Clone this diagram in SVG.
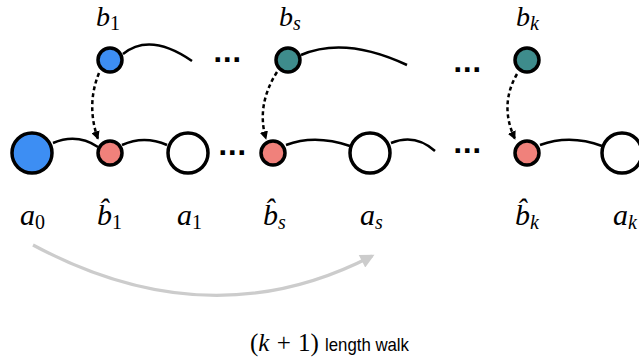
<svg xmlns="http://www.w3.org/2000/svg" width="639" height="364" viewBox="0 0 639 364">
<style>
.n{stroke:#000;stroke-width:3.5}
.big{fill:#fff}
.blue{fill:#3d8ef3}
.pink{fill:#f0817b}
.teal{fill:#3e8c8c}
.e{fill:none;stroke:#000;stroke-width:2.5}
.d{fill:none;stroke:#000;stroke-width:2.5;stroke-dasharray:4 3}
.m{font-family:"Liberation Serif","Times New Roman",serif;font-style:italic;font-size:30px;fill:#000}
.t{font-size:28px}
.sub{font-style:normal;font-size:20px}
.subi{font-size:20px}
.dots{font-family:"DejaVu Sans",sans-serif;font-size:25px;font-weight:bold;fill:#000}
</style>
<defs>
<marker id="ah" viewBox="0 0 10 10" refX="9" refY="5" markerWidth="3.4" markerHeight="3.4" orient="auto" markerUnits="strokeWidth">
<path d="M0,0 L10,5 L0,10 z" fill="#000"/>
</marker>
<marker id="gh" viewBox="0 0 10 10" refX="8" refY="5" markerWidth="5" markerHeight="4.4" orient="auto" markerUnits="strokeWidth">
<path d="M0,0 L10,5 L0,10 z" fill="#cccccc"/>
</marker>
</defs>
<g id="connectors">
<path class="e" d="M53,143 Q77,133 98,147"/>
<path class="e" d="M122,145 Q144,135 167,145"/>
<path class="e" d="M286,145 Q315,134 350,146"/>
<path class="e" d="M391,143 Q415,133 435,151"/>
<path class="e" d="M540,145 Q570,134 602,146"/>
<path class="e" d="M123,54 Q150,32 192,61"/>
<path class="e" d="M301,55 Q345,36 407,65"/>
<path class="d" d="M99,73 Q86,105 98,139" marker-end="url(#ah)"/>
<path class="d" d="M277,72 Q256,105 266,139" marker-end="url(#ah)"/>
<path class="d" d="M517,74 Q499,105 515,139" marker-end="url(#ah)"/>
<path d="M33,245 Q210,340 372,256" fill="none" stroke="#cccccc" stroke-width="3.2" marker-end="url(#gh)"/>
</g>
<g id="a0"><circle class="n blue" cx="32" cy="153" r="20"/><text class="m" x="20" y="225">a<tspan class="sub" dy="4">0</tspan></text></g>
<g id="bh1"><circle class="n pink" cx="110" cy="153" r="12"/><text class="m" x="97" y="225">b̂<tspan class="sub" dy="4">1</tspan></text></g>
<g id="a1"><circle class="n big" cx="188" cy="153" r="20"/><text class="m" x="177" y="225">a<tspan class="sub" dy="4">1</tspan></text></g>
<g id="bhs"><circle class="n pink" cx="273" cy="153" r="12"/><text class="m" x="263" y="225">b̂<tspan class="subi" dy="4">s</tspan></text></g>
<g id="as"><circle class="n big" cx="370" cy="153" r="20"/><text class="m" x="360" y="225">a<tspan class="subi" dy="4">s</tspan></text></g>
<g id="bhk"><circle class="n pink" cx="527" cy="153" r="12"/><text class="m" x="515" y="225">b̂<tspan class="subi" dy="4">k</tspan></text></g>
<g id="ak"><circle class="n big" cx="622" cy="153" r="20"/><text class="m" x="613" y="225">a<tspan class="subi" dy="4">k</tspan></text></g>
<g id="b1"><circle class="n blue" cx="110" cy="60" r="12"/><text class="m t" x="96" y="26">b<tspan class="sub" dy="4">1</tspan></text></g>
<g id="bs"><circle class="n teal" cx="288" cy="60" r="12"/><text class="m t" x="279" y="26">b<tspan class="subi" dy="4">s</tspan></text></g>
<g id="bk"><circle class="n teal" cx="527" cy="60" r="12"/><text class="m t" x="516" y="26">b<tspan class="subi" dy="4">k</tspan></text></g>
<g id="dots">
<text class="dots" x="213" y="68">···</text>
<text class="dots" x="453" y="78">···</text>
<text class="dots" x="218" y="161">···</text>
<text class="dots" x="453" y="159">···</text>
</g>
<g id="caption">
<text x="250" y="351" font-family="Liberation Serif,serif" font-size="25" fill="#000" word-spacing="1">(<tspan font-style="italic">k</tspan> + 1)</text>
<text x="325" y="351" font-family="Liberation Sans,Arial,sans-serif" font-size="19" fill="#000" textLength="84" lengthAdjust="spacingAndGlyphs">length walk</text>
</g>
</svg>
